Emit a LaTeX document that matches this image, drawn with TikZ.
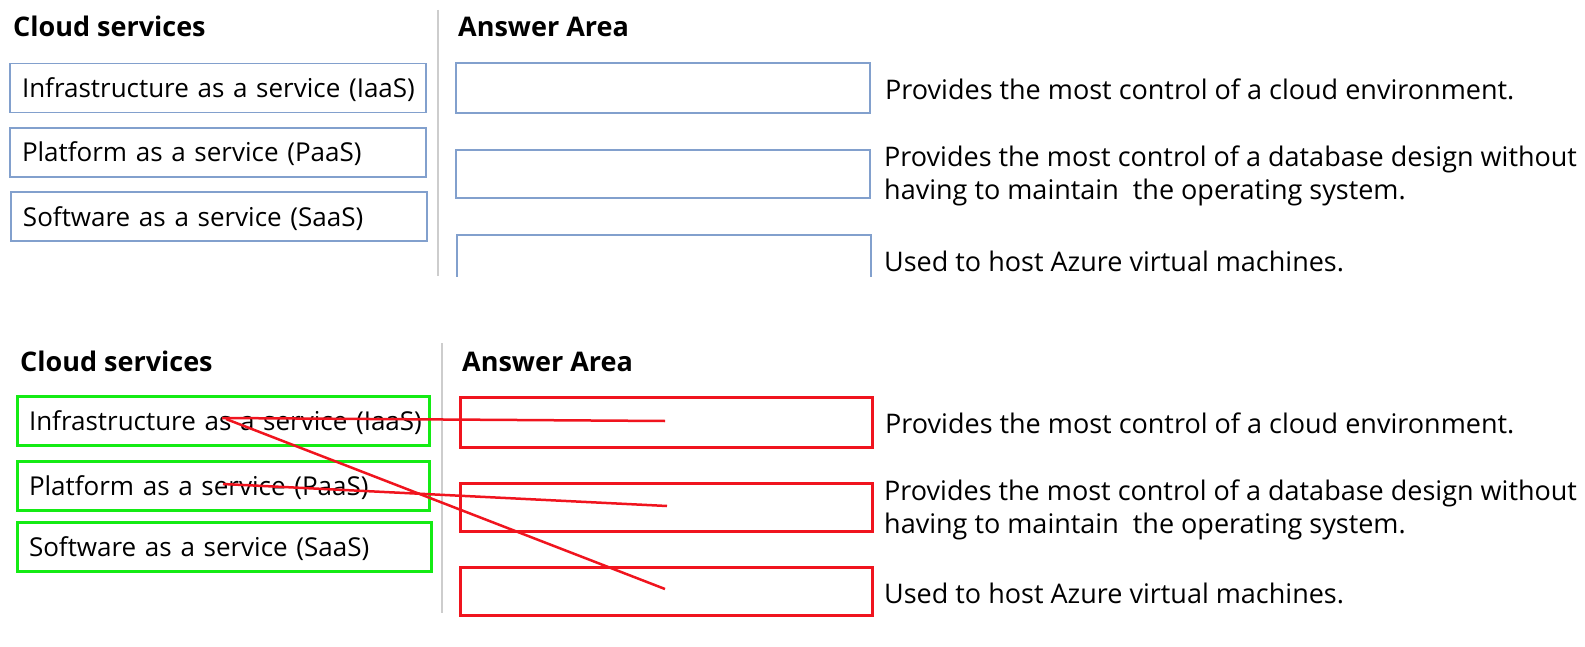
\documentclass[tikz,border=0pt]{standalone}
\usepackage{fontspec}
\setmainfont{Open Sans}
\definecolor{boxblue}{RGB}{130,160,205}
\definecolor{sepgray}{RGB}{205,205,205}
\definecolor{mkgreen}{RGB}{20,235,20}
\definecolor{mkred}{RGB}{240,20,30}
\tikzset{
  title/.style={anchor=base west,inner sep=0pt,font=\fontsize{27}{33}\selectfont\bfseries},
  desc/.style={anchor=base west,inner sep=0pt,align=left,font=\fontsize{27}{33}\selectfont},
  svc/.style={draw=boxblue,line width=1.5pt,minimum width=#1,minimum height=49pt,inner xsep=12pt,inner ysep=0pt,
    text width=#1-22pt,align=left,text height=19pt,text depth=0pt,font=\fontsize{26}{32}\selectfont},
  ans/.style={draw=boxblue,line width=1.5pt,minimum width=414pt,minimum height=#1,inner sep=0pt},
  gsvc/.style={svc=#1,draw=mkgreen,line width=3pt},
  rans/.style={draw=mkred,line width=3pt,minimum width=412pt,minimum height=#1,inner sep=0pt},
  sepline/.style={draw=sepgray,line width=2pt},
  redline/.style={draw=mkred,line width=2.5pt}
}
\begin{document}
\begin{tikzpicture}[x=1pt,y=-1pt]
\useasboundingbox[fill=white] (0,0) rectangle (1585,647);
% ---------- top panel ----------
\node[title] (t1) at (13,37) {Cloud services};
\node[title] (t2) at (458,37) {Answer Area};
\coordinate (sepTa) at (438,10);
\coordinate (sepTb) at (438,276);
\draw[sepline] (sepTa) -- (sepTb);
\node[svc=414pt] (s1) at (218,88) {\mbox{Infrastructure as a service (IaaS)}};
\node[svc=414pt] (s2) at (218,152.5) {Platform as a service (PaaS)};
\node[svc=414pt] (s3) at (219,216.5) {Software as a service (SaaS)};
\node[ans=50pt] (a1) at (663,88) {};
\node[ans=48pt] (a2) at (663,174) {};
\begin{scope}
\clip (440,230) rectangle (880,276);
\node[ans=48pt] (a3) at (664,259) {};
\end{scope}
\node[desc] (d1) at (885,100) {Provides the most control of a cloud environment.};
\node[desc] (d2) at (884,200) {Provides the most control of a database design without\\having to maintain\ \ the operating system.};
\node[desc] (d3) at (884,272) {Used to host Azure virtual machines.};
% ---------- bottom panel ----------
\node[title] (b1) at (20,371) {Cloud services};
\node[title] (b2) at (462,371) {Answer Area};
\coordinate (sepBa) at (442,343);
\coordinate (sepBb) at (442,613);
\draw[sepline] (sepBa) -- (sepBb);
\node[gsvc=410pt] (g1) at (223,421) {\mbox{Infrastructure as a service (IaaS)}};
\node[gsvc=410pt] (g2) at (223,485.5) {Platform as a service (PaaS)};
\node[gsvc=412pt] (g3) at (224,547) {Software as a service (SaaS)};
\node[rans=50pt] (r1) at (666,422) {};
\node[rans=48pt] (r2) at (666.5,507) {};
\node[rans=48pt] (r3) at (666,591) {};
\node[desc] (e1) at (885,433) {Provides the most control of a cloud environment.};
\node[desc] (e2) at (884,533) {Provides the most control of a database design without\\having to maintain\ \ the operating system.};
\node[desc] (e3) at (884,603) {Used to host Azure virtual machines.};
% red answer lines
\coordinate (p1) at (222,418);
\coordinate (q1) at (665,421);
\coordinate (p2) at (223,484);
\coordinate (q2) at (667,506);
\coordinate (p3) at (226,419);
\coordinate (q3) at (665,589);
\draw[redline] (p1) -- (q1);
\draw[redline] (p2) -- (q2);
\draw[redline] (p3) -- (q3);
\end{tikzpicture}
\end{document}
